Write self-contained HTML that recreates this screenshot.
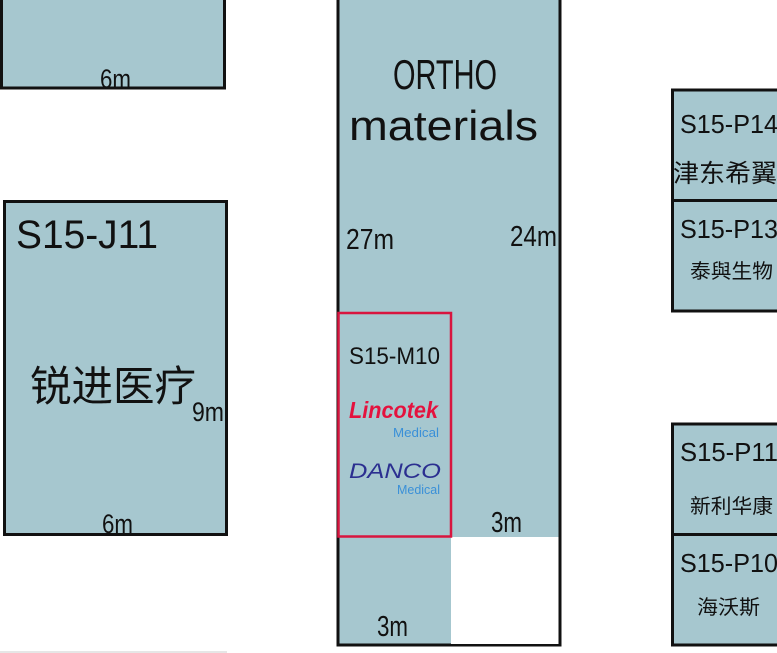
<!DOCTYPE html>
<html><head><meta charset="utf-8"><style>
html,body{margin:0;padding:0;background:#fff;width:777px;height:653px;overflow:hidden}
svg{display:block}
text{font-family:"Liberation Sans","Noto Sans CJK SC",sans-serif;fill:#111}
</style></head><body>
<svg width="777" height="653" viewBox="0 0 777 653" xmlns="http://www.w3.org/2000/svg">
<rect x="1.5" y="-5" width="223" height="93" fill="#a6c7cf" stroke="#111" stroke-width="3"/>
<text x="100" y="88" font-size="27" textLength="31" lengthAdjust="spacingAndGlyphs">6m</text>
<rect x="4.5" y="201.5" width="222" height="333" fill="#a6c7cf" stroke="#111" stroke-width="3"/>
<text x="16" y="248" font-size="40" textLength="142" lengthAdjust="spacingAndGlyphs">S15-J11</text>
<text x="30" y="401" font-size="42" textLength="166" lengthAdjust="spacingAndGlyphs">锐进医疗</text>
<text x="192" y="421" font-size="27" textLength="32" lengthAdjust="spacingAndGlyphs">9m</text>
<text x="102" y="533" font-size="27" textLength="31" lengthAdjust="spacingAndGlyphs">6m</text>
<line x1="0" y1="652" x2="227" y2="652" stroke="#ddd" stroke-width="1.5"/>
<rect x="338" y="-5" width="222" height="650" fill="#a6c7cf" stroke="#111" stroke-width="3"/>
<rect x="451" y="537" width="108" height="107" fill="#fff"/>
<line x1="560" y1="537" x2="560" y2="646" stroke="#111" stroke-width="3"/>
<text x="393" y="89" font-size="42" textLength="104" lengthAdjust="spacingAndGlyphs">ORTHO</text>
<text x="349" y="140" font-size="42" textLength="189" lengthAdjust="spacingAndGlyphs">materials</text>
<text x="346" y="249" font-size="29" textLength="48" lengthAdjust="spacingAndGlyphs">27m</text>
<text x="510" y="246" font-size="29" textLength="47" lengthAdjust="spacingAndGlyphs">24m</text>
<rect x="338.5" y="313" width="112.5" height="223.5" fill="none" stroke="#d8153f" stroke-width="2.5"/>
<text x="349" y="364" font-size="24" textLength="91" lengthAdjust="spacingAndGlyphs">S15-M10</text>
<text x="349" y="418" font-size="23" font-weight="bold" font-style="italic" style="fill:#e4123e" textLength="89" lengthAdjust="spacingAndGlyphs">Lincotek</text>
<text x="393" y="437" font-size="13" style="fill:#3a90d8" textLength="46" lengthAdjust="spacingAndGlyphs">Medical</text>
<text x="349" y="478" font-size="21" font-style="italic" style="fill:#2b2f90" textLength="92" lengthAdjust="spacingAndGlyphs">DANCO</text>
<text x="397" y="494" font-size="13" style="fill:#3a90d8" textLength="43" lengthAdjust="spacingAndGlyphs">Medical</text>
<text x="491" y="532" font-size="29" textLength="31" lengthAdjust="spacingAndGlyphs">3m</text>
<text x="377" y="636" font-size="29" textLength="31" lengthAdjust="spacingAndGlyphs">3m</text>
<rect x="672.5" y="90" width="110" height="110.5" fill="#a6c7cf" stroke="#111" stroke-width="3"/>
<rect x="672.5" y="200.5" width="110" height="110.5" fill="#a6c7cf" stroke="#111" stroke-width="3"/>
<rect x="672.5" y="424" width="110" height="110.5" fill="#a6c7cf" stroke="#111" stroke-width="3"/>
<rect x="672.5" y="534.5" width="110" height="110.5" fill="#a6c7cf" stroke="#111" stroke-width="3"/>
<text x="680" y="133" font-size="26" textLength="98" lengthAdjust="spacingAndGlyphs">S15-P14</text>
<text x="673" y="182" font-size="25" textLength="104" lengthAdjust="spacingAndGlyphs">津东希翼</text>
<text x="680" y="238" font-size="26" textLength="98" lengthAdjust="spacingAndGlyphs">S15-P13</text>
<text x="690" y="278" font-size="20" textLength="83" lengthAdjust="spacingAndGlyphs">泰與生物</text>
<text x="680" y="461" font-size="26" textLength="98" lengthAdjust="spacingAndGlyphs">S15-P11</text>
<text x="690" y="513" font-size="20" textLength="83" lengthAdjust="spacingAndGlyphs">新利华康</text>
<text x="680" y="572" font-size="26" textLength="98" lengthAdjust="spacingAndGlyphs">S15-P10</text>
<text x="697" y="614" font-size="20" textLength="63" lengthAdjust="spacingAndGlyphs">海沃斯</text>
</svg>
</body></html>
